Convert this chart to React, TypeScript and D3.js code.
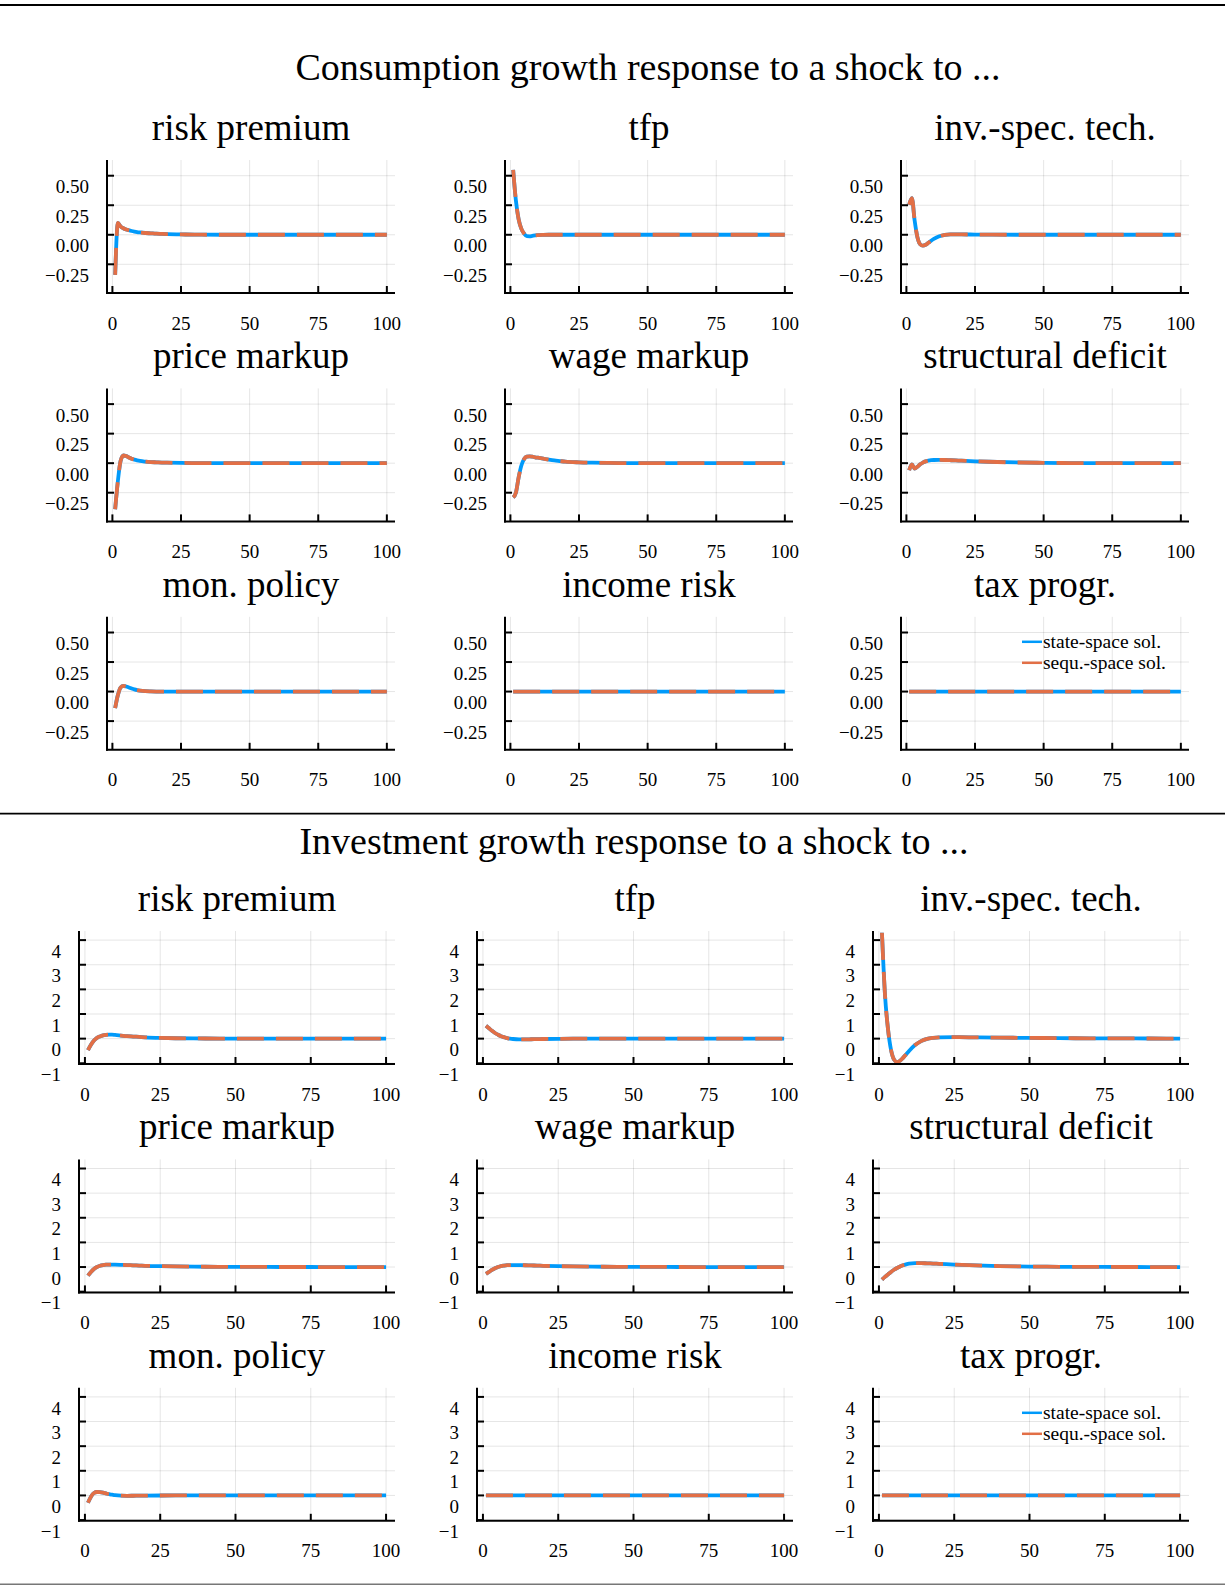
import React from "react";
import * as d3 from "d3";

// periods after the shock (horizon 1..100, sampled more densely early on)
const periods = [1, 2, 3, 4, 5, 6, 7, 8, 9, 10, 12, 14, 16, 18, 20, 25, 30, 40, 50, 60, 70, 80, 90, 100];

const shockTitles = [
  "risk premium", "tfp", "inv.-spec. tech.",
  "price markup", "wage markup", "structural deficit",
  "mon. policy", "income risk", "tax progr.",
];

const seriesNames = ["state-space sol.", "sequ.-space sol."];
const seriesColors = ["#009AFA", "#E26F46"];

// consumption growth responses (both solutions coincide)
const riskPremiumC = [-0.34, 0.10, 0.07, 0.055, 0.045, 0.038, 0.032, 0.027, 0.023, 0.02, 0.015, 0.012, 0.009, 0.007, 0.005, 0.003, 0.001, 0, 0, 0, 0, 0, 0, 0];
const tfpC = [0.55, 0.29, 0.13, 0.05, 0.01, -0.012, -0.013, -0.009, -0.005, -0.003, -0.001, 0, 0, 0, 0, 0, 0, 0, 0, 0, 0, 0, 0, 0];
const invSpecC = [0.255, 0.31, 0.12, -0.02, -0.08, -0.092, -0.085, -0.068, -0.05, -0.035, -0.013, 0.0, 0.004, 0.004, 0.003, 0.002, 0.001, 0, 0, 0, 0, 0, 0, 0];
const priceMarkupC = [-0.39, -0.15, 0.02, 0.065, 0.06, 0.048, 0.038, 0.03, 0.024, 0.019, 0.013, 0.009, 0.007, 0.005, 0.004, 0.002, 0.001, 0, 0, 0, 0, 0, 0, 0];
const wageMarkupC = [-0.29, -0.25, -0.12, -0.02, 0.035, 0.055, 0.058, 0.055, 0.05, 0.046, 0.038, 0.03, 0.023, 0.018, 0.013, 0.007, 0.004, 0.001, 0, 0, 0, 0, 0, 0];
const structDefC = [-0.06, -0.01, -0.045, -0.03, -0.01, 0.005, 0.015, 0.021, 0.025, 0.027, 0.028, 0.027, 0.025, 0.023, 0.021, 0.016, 0.012, 0.006, 0.003, 0.001, 0, 0, 0, 0];
const monPolicyC = [-0.14, -0.03, 0.035, 0.048, 0.043, 0.035, 0.026, 0.018, 0.012, 0.008, 0.003, 0.001, 0, 0, 0, 0, 0, 0, 0, 0, 0, 0, 0, 0];
const incomeRiskC = [0, 0, 0, 0, 0, 0, 0, 0, 0, 0, 0, 0, 0, 0, 0, 0, 0, 0, 0, 0, 0, 0, 0, 0];
const taxProgrC = [0, 0, 0, 0, 0, 0, 0, 0, 0, 0, 0, 0, 0, 0, 0, 0, 0, 0, 0, 0, 0, 0, 0, 0];

// investment growth responses
const riskPremiumI = [-0.47, -0.25, -0.08, 0.03, 0.09, 0.13, 0.15, 0.16, 0.16, 0.15, 0.125, 0.1, 0.085, 0.07, 0.055, 0.03, 0.015, 0.005, 0.001, 0, 0, 0, 0, 0];
const tfpI = [0.52, 0.42, 0.32, 0.23, 0.16, 0.1, 0.06, 0.02, 0.0, -0.015, -0.03, -0.03, -0.025, -0.02, -0.015, -0.007, -0.003, 0, 0, 0, 0, 0, 0, 0];
const invSpecI = [4.3, 1.8, 0.4, -0.45, -0.85, -0.95, -0.9, -0.78, -0.64, -0.5, -0.26, -0.1, -0.01, 0.03, 0.05, 0.06, 0.055, 0.04, 0.03, 0.02, 0.012, 0.008, 0.005, 0.003];
const priceMarkupI = [-0.35, -0.2, -0.08, 0.0, 0.05, 0.08, 0.095, 0.1, 0.1, 0.098, 0.09, 0.08, 0.07, 0.06, 0.05, 0.035, 0.025, 0.012, 0.006, 0.003, 0.001, 0, 0, 0];
const wageMarkupI = [-0.28, -0.2, -0.12, -0.05, 0.0, 0.04, 0.06, 0.075, 0.08, 0.08, 0.078, 0.072, 0.065, 0.058, 0.05, 0.035, 0.025, 0.012, 0.006, 0.003, 0, 0, 0, 0];
const structDefI = [-0.51, -0.4, -0.3, -0.2, -0.11, -0.04, 0.02, 0.07, 0.11, 0.14, 0.16, 0.16, 0.15, 0.14, 0.13, 0.1, 0.075, 0.04, 0.02, 0.01, 0.005, 0.002, 0, 0];
const monPolicyI = [-0.3, -0.05, 0.1, 0.14, 0.13, 0.11, 0.08, 0.05, 0.03, 0.01, -0.01, -0.015, -0.012, -0.008, -0.005, -0.002, 0, 0, 0, 0, 0, 0, 0, 0];
const incomeRiskI = [0, 0, 0, 0, 0, 0, 0, 0, 0, 0, 0, 0, 0, 0, 0, 0, 0, 0, 0, 0, 0, 0, 0, 0];
const taxProgrI = [0, 0, 0, 0, 0, 0, 0, 0, 0, 0, 0, 0, 0, 0, 0, 0, 0, 0, 0, 0, 0, 0, 0, 0];

const xTicks = [0, 25, 50, 75, 100];
const consTicks = [-0.25, 0, 0.25, 0.5];
const consTickLabels = ["\u22120.25", "0.00", "0.25", "0.50"];
const invTicks = [-1, 0, 1, 2, 3, 4];
const invTickLabels = ["\u22121", "0", "1", "2", "3", "4"];

const consResponses = [riskPremiumC, tfpC, invSpecC, priceMarkupC, wageMarkupC, structDefC, monPolicyC, incomeRiskC, taxProgrC];
const invResponses = [riskPremiumI, tfpI, invSpecI, priceMarkupI, wageMarkupI, structDefI, monPolicyI, incomeRiskI, taxProgrI];

const FONT = "'Liberation Serif', 'DejaVu Serif', serif";
const cellX = [0, 398, 794];
const plotH = 133;
const rowStep = 228.4;

type PanelProps = {
  title: string;
  values: number[];
  left: number;
  right: number;
  top: number;
  yDomain: [number, number];
  yTicks: number[];
  yLabels: string[];
  legend: boolean;
};

function Panel({ title, values, left, right, top, yDomain, yTicks, yLabels, legend }: PanelProps) {
  const bottom = top + plotH;
  const x = d3.scaleLinear().domain([1 - 2.97, 100 + 2.97]).range([left, right]);
  const y = d3.scaleLinear().domain(yDomain).range([bottom, top]);
  const line = d3.line<number>()
    .x((d, i) => x(periods[i]))
    .y(d => y(d))
    .curve(d3.curveMonotoneX);
  const path = line(values) || "";

  return (
    <g>
      {/* grid */}
      {xTicks.map(t => (
        <line key={"gx" + t} x1={x(t)} x2={x(t)} y1={top} y2={bottom} stroke="#000" strokeOpacity={0.1} strokeWidth={1} />
      ))}
      {yTicks.map(t => (
        <line key={"gy" + t} x1={left} x2={right} y1={y(t)} y2={y(t)} stroke="#000" strokeOpacity={0.1} strokeWidth={1} />
      ))}
      {/* series */}
      <path d={path} fill="none" stroke={seriesColors[0]} strokeWidth={3.8} strokeLinejoin="round" />
      <path d={path} fill="none" stroke={seriesColors[1]} strokeWidth={3.8} strokeDasharray="27 12" strokeLinejoin="round" />
      {/* axes */}
      <line x1={left} x2={left} y1={top} y2={bottom + 1} stroke="#000" strokeWidth={2} />
      <line x1={left - 1} x2={right} y1={bottom} y2={bottom} stroke="#000" strokeWidth={2} />
      {xTicks.map(t => (
        <line key={"tx" + t} x1={x(t)} x2={x(t)} y1={bottom} y2={bottom - 7} stroke="#000" strokeWidth={2} />
      ))}
      {yTicks.map(t => (
        <line key={"ty" + t} x1={left} x2={left + 7} y1={y(t)} y2={y(t)} stroke="#000" strokeWidth={2} />
      ))}
      {xTicks.map(t => (
        <text key={"lx" + t} x={x(t)} y={bottom + 30} dy="0.35em" textAnchor="middle" fontSize={19} fontFamily={FONT}>{t}</text>
      ))}
      {yTicks.map((t, i) => (
        <text key={"ly" + t} x={left - 18} y={y(t) + 11} dy="0.35em" textAnchor="end" fontSize={19} fontFamily={FONT}>{yLabels[i]}</text>
      ))}
      <text x={(left + right) / 2} y={top - 20} textAnchor="middle" fontSize={37} fontFamily={FONT}>{title}</text>
      {legend && seriesNames.map((name, i) => (
        <g key={name}>
          <line x1={right - 167} x2={right - 147} y1={top + 25 + i * 21} y2={top + 25 + i * 21}
            stroke={seriesColors[i]} strokeWidth={2.5} />
          <text x={right - 146} y={top + 25 + i * 21} dy="0.33em" fontSize={19.5} fontFamily={FONT}>{name}</text>
        </g>
      ))}
    </g>
  );
}

export default function App() {
  return (
    <svg width={1225} height={1585} style={{ position: "absolute", left: 0, top: 0, background: "#fff" }}>
      <rect x={0} y={0} width={1225} height={1585} fill="#fff" />
      <line x1={0} x2={1225} y1={5} y2={5} stroke="#000" strokeWidth={2.2} />
      <text x={648} y={80} textAnchor="middle" fontSize={38} fontFamily={FONT}>Consumption growth response to a shock to ...</text>
      {consResponses.map((vals, k) => {
        const col = k % 3, row = Math.floor(k / 3);
        return (
          <Panel key={"c" + k} title={shockTitles[k]} values={vals}
            left={cellX[col] + 107} right={cellX[col] + 395} top={160 + row * rowStep}
            yDomain={[-0.493, 0.633]} yTicks={consTicks} yLabels={consTickLabels} legend={k === 8} />
        );
      })}
      <line x1={0} x2={1225} y1={813.6} y2={813.6} stroke="#000" strokeWidth={1.6} />
      <text x={634} y={854} textAnchor="middle" fontSize={38} fontFamily={FONT}>Investment growth response to a shock to ...</text>
      {invResponses.map((vals, k) => {
        const col = k % 3, row = Math.floor(k / 3);
        return (
          <Panel key={"i" + k} title={shockTitles[k]} values={vals}
            left={cellX[col] + 79} right={cellX[col] + 395} top={931 + row * rowStep}
            yDomain={[-1.03, 4.37]} yTicks={invTicks} yLabels={invTickLabels} legend={k === 8} />
        );
      })}
      <line x1={0} x2={1225} y1={1584.3} y2={1584.3} stroke="#777" strokeWidth={1.4} />
    </svg>
  );
}
